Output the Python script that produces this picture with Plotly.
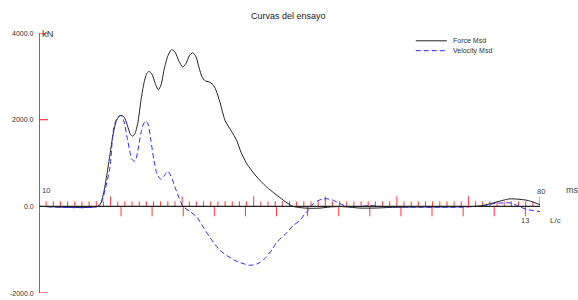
import plotly.graph_objects as go

# ---------------- data ----------------
force_t = [10, 18.24, 18.66, 19.08, 19.50, 19.92, 20.34, 20.76, 21.18, 21.60, 22.02, 22.44, 22.78,
           23.09, 23.41, 23.83, 24.25, 24.67, 25.02, 25.37, 25.79, 26.21, 26.67, 27.05, 27.47,
           28.02, 28.54, 29.00, 29.56, 30.08, 30.54, 31.03, 31.48, 31.94, 32.36, 32.78, 33.19,
           33.75, 34.31, 34.73, 35.29, 35.99, 36.83, 37.62, 38.22, 39.02, 40.32, 41.81, 42.97,
           43.67, 44.65, 45.49, 46.47, 47.86, 49.26, 50.66, 52.06, 53.45, 54.85, 56.95, 59.04,
           60.44, 63.23, 66.03, 68.82, 71.06, 72.32, 73.71, 74.83, 75.81, 76.93, 78.19, 79.16, 80]
force_kn = [0, 0, 80, 350, 750, 1200, 1650, 1950, 2080, 2100, 2020, 1820, 1660,
            1620, 1680, 1950, 2450, 2850, 3050, 3115, 3050, 2850, 2690, 2800, 3150,
            3480, 3615, 3560, 3350, 3215, 3300, 3480, 3545, 3450, 3200, 2990, 2900,
            2870, 2810, 2680, 2400, 1985, 1750, 1520, 1250, 985, 700, 445, 290,
            200, 80, 0, -30, -45, -40, -15, -5, -20, -40, -40, -25,
            -20, -15, -15, -10, 0, 30, 90, 140, 172, 165, 140, 90, 40]

vel_t = [10, 18.24, 18.80, 19.22, 19.92, 20.38, 20.86, 21.46, 21.88, 22.30, 22.71, 22.99, 23.41,
         23.83, 24.25, 24.60, 24.91, 25.23, 25.65, 26.07, 26.49, 27.05, 27.47, 27.98, 28.44,
         29.00, 29.56, 30.12, 31.10, 32.08, 32.50, 33.89, 35.29, 37.39, 39.48, 40.60, 41.58,
         42.56, 43.25, 44.37, 45.49, 46.47, 47.17, 47.63, 48.33, 48.98, 49.72, 50.38, 51.12,
         52.06, 52.99, 54.15, 56.25, 58.34, 60.44, 63.23, 66.03, 68.82, 70.92, 72.04, 73.43,
         74.83, 75.81, 76.51, 77.21, 78.14, 78.74, 79.54, 80]
vel_kn = [0, 0, 120, 370, 905, 1750, 2020, 2100, 1950, 1600, 1250, 1080, 1040,
          1300, 1700, 1900, 1970, 1900, 1500, 1050, 750, 620, 700, 810, 700,
          445, 200, 0, -120, -250, -360, -720, -1015, -1250, -1360, -1320, -1200,
          -1000, -820, -650, -450, -320, -170, -90, 60, 130, 175, 170, 140,
          60, 0, -10, 15, -10, -15, -20, -20, -20, -5, 0, 60,
          80, 80, 40, -15, -70, -90, -110, -120]

y_ticks = [4000, 2000, 0, -2000]
y_tick_labels = ["4000.0", "2000.0", "0.0", "-2000.0"]
ms_ticks = list(range(11, 81))
lc_ticks = [21.46, 25.80, 30.15, 34.50, 38.84, 43.19, 47.53, 51.88, 56.22, 60.57,
            64.91, 69.26, 73.60, 77.95]
x_start, x_end = 10, 80
series_names = ["Force Msd", "Velocity Msd"]

# ---------------- figure ----------------
PX = 1000 / 43.333  # kN per pixel (vertical)
MSPX = 70 / 501     # ms per pixel (horizontal)

fig = go.Figure()

# tick marks along the time axis
up_x, up_y = [], []
for t in ms_ticks:
    h = 10 if t % 10 == 0 else 5
    up_x += [t, t, None]
    up_y += [0, h * PX, None]
fig.add_trace(go.Scatter(x=up_x, y=up_y, mode="lines", line=dict(color="#ff3838", width=1),
                         hoverinfo="skip", showlegend=False))
dn_x, dn_y = [], []
for t in lc_ticks:
    dn_x += [t, t, None]
    dn_y += [0, -10 * PX, None]
fig.add_trace(go.Scatter(x=dn_x, y=dn_y, mode="lines", line=dict(color="#ff3838", width=1),
                         hoverinfo="skip", showlegend=False))

# axis lines
fig.add_shape(type="line", x0=x_start, x1=x_end, y0=0, y1=0, xref="x", yref="y",
              line=dict(color="#222222", width=1.3))
fig.add_shape(type="line", x0=x_start, x1=x_start, y0=-2000 - 3 * PX, y1=4000, xref="x", yref="y",
              line=dict(color="#444444", width=1.5))
for v in y_ticks:
    if v != 0:
        fig.add_shape(type="line", x0=x_start, x1=x_start + 9 * MSPX, y0=v, y1=v, xref="x", yref="y",
                      line=dict(color="#ff3838", width=1.2))

fig.add_trace(go.Scatter(x=force_t, y=force_kn, mode="lines", name=series_names[0],
                         line=dict(color="#222222", width=1, shape="spline", smoothing=0.7),
                         showlegend=False))
fig.add_trace(go.Scatter(x=vel_t, y=vel_kn, mode="lines", name=series_names[1],
                         line=dict(color="#2b2bff", width=1, dash="5px,3px", shape="spline", smoothing=0.7),
                         showlegend=False))

ann = []
FONT = "Liberation Sans, Arial, sans-serif"
for v, lab in zip(y_ticks, y_tick_labels):
    ann.append(dict(x=0, xref="paper", y=v, yref="y", text=lab, showarrow=False,
                    xanchor="right", yanchor="middle", xshift=-3,
                    font=dict(size=7, color="#333333", family=FONT)))
ann.append(dict(x=x_start, xref="x", y=4000, yref="y", text="kN", showarrow=False,
                xanchor="left", yanchor="middle", xshift=1,
                font=dict(size=9.5, color="#333333", family=FONT)))
ann.append(dict(x=x_start, xref="x", y=0, yref="y", text=str(x_start), showarrow=False,
                xanchor="center", yanchor="middle", xshift=7, yshift=16,
                font=dict(size=7.5, color="#444444", family=FONT)))
ann.append(dict(x=x_end, xref="x", y=0, yref="y", text=str(x_end), showarrow=False,
                xanchor="center", yanchor="middle", xshift=1, yshift=15,
                font=dict(size=7.5, color="#444444", family=FONT)))
ann.append(dict(x=x_end, xref="x", y=0, yref="y", text="ms", showarrow=False,
                xanchor="left", yanchor="middle", xshift=24, yshift=16,
                font=dict(size=9, color="#444444", family=FONT)))
ann.append(dict(x=lc_ticks[-1], xref="x", y=0, yref="y", text=str(len(lc_ticks) - 1), showarrow=False,
                xanchor="center", yanchor="middle", yshift=-14,
                font=dict(size=7.5, color="#444444", family=FONT)))
ann.append(dict(x=x_end, xref="x", y=0, yref="y", text="L/c", showarrow=False,
                xanchor="left", yanchor="middle", xshift=8, yshift=-14,
                font=dict(size=8, color="#444444", family=FONT)))
ann.append(dict(x=0.499, xref="paper", y=1.065, yref="paper", text="Curvas del ensayo",
                showarrow=False, xanchor="center", yanchor="middle",
                font=dict(size=9, color="#222222", family=FONT)))

# manual legend
leg_y = [0.970, 0.932]
leg_styles = [dict(color="#222222", width=1), dict(color="#2b2bff", width=1, dash="5px,3px")]
for yy, name, st in zip(leg_y, series_names, leg_styles):
    fig.add_shape(type="line", xref="paper", yref="paper", x0=0.752, x1=0.814, y0=yy, y1=yy, line=st)
    ann.append(dict(x=0.822, xref="paper", y=yy, yref="paper", text=name, showarrow=False,
                    xanchor="left", yanchor="middle",
                    font=dict(size=7, color="#333333", family=FONT)))

fig.update_layout(
    width=578, height=300,
    margin=dict(l=39, r=38, t=33, b=7),
    paper_bgcolor="white", plot_bgcolor="white",
    xaxis=dict(range=[x_start, x_end], visible=False, showgrid=False, zeroline=False),
    yaxis=dict(range=[-2000, 4000], visible=False, showgrid=False, zeroline=False),
    annotations=ann,
    showlegend=False,
)

fig.write_html("out.html", config={"displayModeBar": False},
               post_script="document.body.style.margin='0';document.body.style.overflow='hidden';")
